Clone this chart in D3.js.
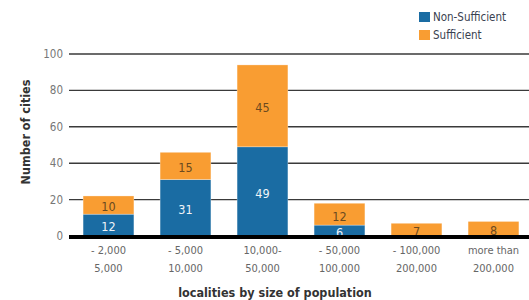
<!DOCTYPE html>
<html>
<head>
<meta charset="utf-8">
<script src="https://cdn.jsdelivr.net/npm/d3@7"></script>
<style>
  body { margin: 0; background: #fff; }
  svg { display: block; font-family: "DejaVu Sans Condensed", "DejaVu Sans", sans-serif; }
</style>
</head>
<body>
<svg width="529" height="300"></svg>
<script>
// categories (two-line tick labels)
const categories = ['- 2,000|5,000', '- 5,000|10,000', '10,000-|50,000', '- 50,000|100,000', '- 100,000|200,000', 'more than|200,000'];
const nonSufficient = [12, 31, 49, 6, 0, 0];
const sufficient = [10, 15, 45, 12, 7, 8];
const seriesNames = ['Non-Sufficient', 'Sufficient'];
const yTicks = [0, 20, 40, 60, 80, 100];

const colors = { 'Non-Sufficient': '#1a6ca3', 'Sufficient': '#f99d32' };
const labelColors = { 'Non-Sufficient': '#f0f4f8', 'Sufficient': '#6b4a1f' };

const svg = d3.select('svg');
const W = 529;

const x = d3.scaleBand().domain(categories).range([70, 532]).paddingInner(0.34).paddingOuter(0.17);
const y = d3.scaleLinear().domain([0, 100]).range([236, 54]);

const rows = categories.map((c, i) => ({ cat: c, 'Non-Sufficient': nonSufficient[i], 'Sufficient': sufficient[i] }));
const stacked = d3.stack().keys(seriesNames)(rows);

// gridlines
svg.append('g')
  .selectAll('line')
  .data(yTicks.filter(d => d > 0))
  .join('line')
  .attr('x1', 69).attr('x2', W)
  .attr('y1', d => y(d)).attr('y2', d => y(d))
  .attr('stroke', '#3a3a3a')
  .attr('stroke-width', 1.4);

// y tick labels
svg.append('g')
  .selectAll('text')
  .data(yTicks)
  .join('text')
  .attr('x', 63)
  .attr('y', d => y(d))
  .attr('dy', '0.35em')
  .attr('text-anchor', 'end')
  .attr('fill', '#777')
  .attr('font-size', 11.5)
  .text(d => d);

// bars
const layers = svg.append('g')
  .selectAll('g')
  .data(stacked)
  .join('g')
  .attr('fill', d => colors[d.key]);

layers.selectAll('rect')
  .data(d => d.map(s => ({ s, key: d.key })))
  .join('rect')
  .attr('x', d => x(d.s.data.cat))
  .attr('y', d => y(d.s[1]))
  .attr('width', x.bandwidth())
  .attr('height', d => y(d.s[0]) - y(d.s[1]))
  .attr('stroke', '#fff')
  .attr('stroke-opacity', 0.5)
  .attr('stroke-width', 0.6);

// value labels
layers.selectAll('text')
  .data(d => d.map(s => ({ s, key: d.key })).filter(d => d.s[1] - d.s[0] > 0))
  .join('text')
  .attr('x', d => x(d.s.data.cat) + x.bandwidth() / 2)
  .attr('y', d => (y(d.s[0]) + y(d.s[1])) / 2 + 2)
  .attr('dy', '0.35em')
  .attr('text-anchor', 'middle')
  .attr('font-size', 12.5)
  .attr('fill', d => labelColors[d.key])
  .text(d => d.s[1] - d.s[0]);

// baseline
svg.append('line')
  .attr('x1', 69).attr('x2', W)
  .attr('y1', y(0) + 1).attr('y2', y(0) + 1)
  .attr('stroke', '#000')
  .attr('stroke-width', 4);

// x tick labels
const xt = svg.append('g')
  .selectAll('text')
  .data(categories)
  .join('text')
  .attr('x', d => x(d) + x.bandwidth() / 2)
  .attr('text-anchor', 'middle')
  .attr('fill', '#666')
  .attr('font-size', 11);
xt.append('tspan').attr('x', d => x(d) + x.bandwidth() / 2).attr('y', 254).text(d => d.split('|')[0]);
xt.append('tspan').attr('x', d => x(d) + x.bandwidth() / 2).attr('y', 272).text(d => d.split('|')[1]);

// axis titles
svg.append('text')
  .attr('x', 275).attr('y', 297)
  .attr('text-anchor', 'middle')
  .attr('font-size', 12.5)
  .attr('font-weight', 'bold')
  .attr('fill', '#333')
  .text('localities by size of population');

svg.append('text')
  .attr('transform', 'translate(30,132) rotate(-90)')
  .attr('text-anchor', 'middle')
  .attr('font-size', 12.5)
  .attr('font-weight', 'bold')
  .attr('fill', '#333')
  .text('Number of cities');

// legend
const legend = svg.append('g')
  .selectAll('g')
  .data(seriesNames)
  .join('g')
  .attr('transform', (d, i) => `translate(419,${12 + i * 18})`);
legend.append('rect')
  .attr('width', 11).attr('height', 10)
  .attr('fill', d => colors[d]);
legend.append('text')
  .attr('x', 14).attr('y', 5)
  .attr('dy', '0.35em')
  .attr('font-size', 11.5)
  .attr('fill', '#3a4250')
  .text(d => d);
</script>
</body>
</html>
